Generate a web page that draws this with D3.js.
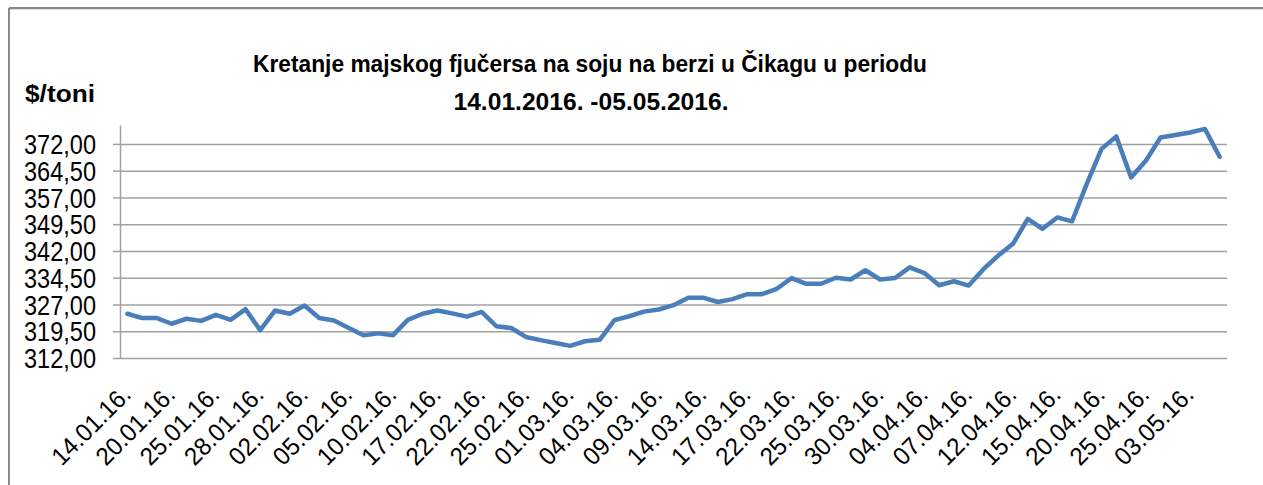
<!DOCTYPE html>
<html>
<head>
    <meta charset="utf-8">
    <script src="https://d3js.org/d3.v7.min.js"></script>
    <style type="text/css">
        body {
            margin: 0;
            background: white;
        }

        text {
            font-family: "Liberation Sans", Arial, sans-serif;
            fill: black;
        }

        .tick line {
            stroke: #a0a0a0;
            stroke-width: 1.5px;
        }

        .axis path {
            stroke: #a0a0a0;
            stroke-width: 1.5px;
        }

        path.linija {
            fill: none;
            stroke: #4a7ebb;
            stroke-width: 4.5px;
            stroke-linejoin: round;
            stroke-linecap: round;
        }
    </style>
</head>

<body>
    <script>
        // datumi (trgovacki dani)
        let datumi = ["14.01.16.", "15.01.16.", "19.01.16.", "20.01.16.", "21.01.16.", "22.01.16.",
            "25.01.16.", "26.01.16.", "27.01.16.", "28.01.16.", "29.01.16.", "01.02.16.",
            "02.02.16.", "03.02.16.", "04.02.16.", "05.02.16.", "08.02.16.", "09.02.16.",
            "10.02.16.", "11.02.16.", "12.02.16.", "17.02.16.", "18.02.16.", "19.02.16.",
            "22.02.16.", "23.02.16.", "24.02.16.", "25.02.16.", "26.02.16.", "29.02.16.",
            "01.03.16.", "02.03.16.", "03.03.16.", "04.03.16.", "07.03.16.", "08.03.16.",
            "09.03.16.", "10.03.16.", "11.03.16.", "14.03.16.", "15.03.16.", "16.03.16.",
            "17.03.16.", "18.03.16.", "21.03.16.", "22.03.16.", "23.03.16.", "24.03.16.",
            "25.03.16.", "28.03.16.", "29.03.16.", "30.03.16.", "31.03.16.", "01.04.16.",
            "04.04.16.", "05.04.16.", "06.04.16.", "07.04.16.", "08.04.16.", "11.04.16.",
            "12.04.16.", "13.04.16.", "14.04.16.", "15.04.16.", "18.04.16.", "19.04.16.",
            "20.04.16.", "21.04.16.", "22.04.16.", "25.04.16.", "26.04.16.", "28.04.16.",
            "03.05.16.", "04.05.16.", "05.05.16."];

        // cijena $/toni
        let cijene = [324.4, 323.2, 323.2, 321.6, 323.0, 322.4, 324.1, 322.7, 325.7, 319.8,
            325.3, 324.4, 326.7, 323.2, 322.5, 320.4, 318.4, 318.9, 318.4, 322.7,
            324.4, 325.3, 324.5, 323.6, 324.9, 320.9, 320.4, 317.9, 317.0, 316.2,
            315.4, 316.7, 317.1, 322.6, 323.7, 325.0, 325.6, 326.8, 328.9, 328.9,
            327.7, 328.5, 329.9, 329.9, 331.4, 334.4, 332.8, 332.8, 334.5, 334.0,
            336.6, 334.0, 334.4, 337.4, 335.8, 332.4, 333.5, 332.3, 336.9, 340.7,
            344.0, 351.0, 348.2, 351.4, 350.3, 360.8, 370.6, 374.1, 362.6, 367.3,
            373.8, 374.5, 375.2, 376.2, 368.4];

        let y_ticks = [312, 319.5, 327, 334.5, 342, 349.5, 357, 364.5, 372];

        let width = 1263;
        let height = 485;
        let m_left = 120, m_right = 1227, m_top = 125, m_bottom = 358;

        let svg = d3.select('body').append('svg')
            .attr('width', width)
            .attr('height', height);

        // okvir
        svg.append("line").attr("x1", 9).attr("x2", width).attr("y1", 8).attr("y2", 8)
            .attr("stroke", "#888").attr("stroke-width", 2);
        svg.append("line").attr("x1", 9).attr("x2", width).attr("y1", 9.5).attr("y2", 9.5)
            .attr("stroke", "#ddd").attr("stroke-width", 1);
        svg.append("line").attr("x1", 9).attr("x2", 9).attr("y1", 8).attr("y2", height)
            .attr("stroke", "#888").attr("stroke-width", 2);

        let x_scale = d3.scaleBand()
            .domain(datumi)
            .range([m_left, m_right]);

        let y_scale = d3.scaleLinear()
            .domain([312, 377.3])
            .range([m_bottom, m_top]);

        let fmt = function (d) { return d3.format(".2f")(d).replace(".", ","); };

        // mreza
        svg.append("g")
            .attr("transform", "translate(" + m_left + ",0)")
            .call(d3.axisLeft(y_scale).tickValues(y_ticks).tickSize(-(m_right - m_left)).tickFormat(""))
            .call(function (g) { g.select(".domain").remove(); });

        // Y osa
        let y_axis = svg.append("g")
            .attr("class", "y axis")
            .attr("transform", "translate(" + m_left + ",0)")
            .call(d3.axisLeft(y_scale).tickValues(y_ticks).tickSize(7).tickSizeOuter(0)
                .tickPadding(17).tickFormat(fmt));
        y_axis.selectAll("text")
            .style("font-size", "27px")
            .attr("dy", "0.36em")
            .attr("textLength", 72)
            .attr("lengthAdjust", "spacingAndGlyphs");

        // X osa
        let x_axis = svg.append("g")
            .attr("transform", "translate(0," + m_bottom + ")")
            .call(d3.axisBottom(x_scale)
                .tickValues(datumi.filter(function (d, i) { return i % 3 == 0; }))
                .tickSize(0));
        x_axis.select(".domain").remove();
        x_axis.selectAll("text")
            .style("font-size", "25px")
            .attr("text-anchor", "end")
            .attr("dy", 0)
            .attr("y", 0)
            .attr("textLength", 100)
            .attr("lengthAdjust", "spacingAndGlyphs")
            .attr("transform", "translate(5,38) rotate(-45)");

        // linija
        let line = d3.line()
            .x(function (d, i) { return x_scale(datumi[i]) + x_scale.bandwidth() / 2; })
            .y(function (d) { return y_scale(d); });

        svg.append("path")
            .attr("d", line(cijene))
            .attr("class", "linija");

        // naslov
        svg.append("text")
            .text("Kretanje majskog fjučersa na soju na berzi u Čikagu u periodu")
            .attr("x", 590)
            .attr("y", 72)
            .attr("text-anchor", "middle")
            .attr("textLength", 674)
            .attr("lengthAdjust", "spacingAndGlyphs")
            .style("font-weight", "bold")
            .style("font-size", "23px");

        svg.append("text")
            .text("14.01.2016. -05.05.2016.")
            .attr("x", 591)
            .attr("y", 110)
            .attr("text-anchor", "middle")
            .attr("textLength", 275)
            .attr("lengthAdjust", "spacingAndGlyphs")
            .style("font-weight", "bold")
            .style("font-size", "23px");

        svg.append("text")
            .text("$/toni")
            .attr("x", 95)
            .attr("y", 102)
            .attr("text-anchor", "end")
            .attr("textLength", 70)
            .attr("lengthAdjust", "spacingAndGlyphs")
            .style("font-weight", "bold")
            .style("font-size", "24px");
    </script>
</body>
</html>
